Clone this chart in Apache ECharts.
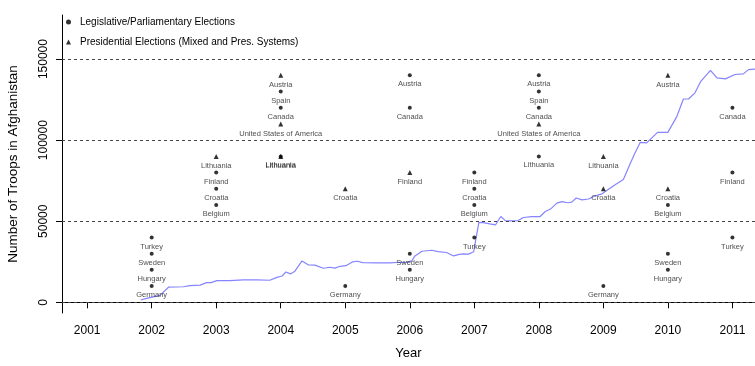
<!DOCTYPE html>
<html>
<head>
<meta charset="utf-8">
<title>Troops in Afghanistan and Elections</title>
<script src="https://cdn.jsdelivr.net/npm/echarts@6/dist/echarts.min.js"></script>
<style>
  html, body { margin: 0; padding: 0; background: #fff; }
  #chart { width: 755px; height: 366px; }
</style>
</head>
<body>
<div id="chart"></div>
<script>
// Troop deployment over time (decimal year, number of troops)
const troopYears = [2001.83, 2001.92, 2002.13, 2002.26, 2002.49, 2002.59, 2002.75, 2002.85, 2002.92, 2003.01,
  2003.21, 2003.42, 2003.63, 2003.83, 2003.94, 2004.02, 2004.08, 2004.15, 2004.22, 2004.33,
  2004.43, 2004.53, 2004.66, 2004.76, 2004.84, 2004.92, 2005.01, 2005.11, 2005.19, 2005.27,
  2005.49, 2005.69, 2005.85, 2005.93, 2006.03, 2006.08, 2006.19, 2006.34, 2006.44, 2006.57,
  2006.68, 2006.75, 2006.83, 2006.91, 2006.99, 2007.07, 2007.12, 2007.24, 2007.33, 2007.41,
  2007.48, 2007.58, 2007.68, 2007.76, 2007.89, 2008.02, 2008.10, 2008.18, 2008.28, 2008.36,
  2008.45, 2008.51, 2008.58, 2008.67, 2008.77, 2008.85, 2008.98, 2009.08, 2009.20, 2009.31,
  2009.42, 2009.49, 2009.57, 2009.67, 2009.84, 2010.00, 2010.14, 2010.24, 2010.32, 2010.42,
  2010.51, 2010.66, 2010.76, 2010.89, 2011.04, 2011.17, 2011.25, 2011.40];
const troopCounts = [1400, 2400, 4300, 9300, 9600, 10300, 10600, 12100, 12100, 13400,
  13400, 13800, 13800, 13600, 15400, 16200, 18700, 17500, 19200, 25500,
  23000, 22900, 21000, 21600, 21100, 22200, 22600, 24900, 25300, 24500,
  24300, 24300, 24700, 24500, 25500, 28600, 31500, 32100, 31300, 30700,
  28600, 29400, 29900, 29700, 31200, 49200, 49300, 48400, 47800, 52900,
  50400, 50200, 50400, 52300, 52900, 52900, 56000, 57500, 61200, 62100,
  61400, 61800, 64300, 63200, 63700, 65300, 66900, 69700, 73000, 75800,
  85900, 92100, 98600, 98300, 104800, 104800, 114700, 125400, 125400, 129200,
  136300, 143100, 138400, 137800, 140500, 140900, 143500, 144000];

// Legislative / parliamentary elections: year, country, vertical slot
const legYears = [2002, 2002, 2002, 2002, 2003, 2003, 2003, 2004, 2004, 2004, 2005,
  2006, 2006, 2006, 2006, 2007, 2007, 2007, 2007, 2008, 2008, 2008, 2008, 2009,
  2010, 2010, 2010, 2011, 2011, 2011];
const legCountries = ['Turkey', 'Sweden', 'Hungary', 'Germany', 'Finland', 'Croatia', 'Belgium',
  'Spain', 'Canada', 'Lithuania', 'Germany', 'Austria', 'Canada', 'Sweden', 'Hungary',
  'Finland', 'Croatia', 'Belgium', 'Turkey', 'Austria', 'Spain', 'Canada', 'Lithuania',
  'Germany', 'Belgium', 'Sweden', 'Hungary', 'Canada', 'Finland', 'Turkey'];
const legLevels = [40000, 30000, 20000, 10000, 80000, 70000, 60000, 130000, 120000, 90000, 10000,
  140000, 120000, 30000, 20000, 80000, 70000, 60000, 40000, 140000, 130000, 120000, 90000, 10000,
  60000, 30000, 20000, 120000, 80000, 40000];

// Presidential elections (mixed and presidential systems)
const presYears = [2003, 2004, 2004, 2004, 2005, 2006, 2008, 2009, 2009, 2010, 2010];
const presCountries = ['Lithuania', 'Austria', 'United States of America', 'Lithuania', 'Croatia',
  'Finland', 'United States of America', 'Lithuania', 'Croatia', 'Austria', 'Croatia'];
const presLevels = [90000, 140000, 110000, 90000, 70000, 80000, 110000, 90000, 70000, 140000, 70000];

// Axis ticks and reference lines
const yearTicks = [2001, 2002, 2003, 2004, 2005, 2006, 2007, 2008, 2009, 2010, 2011];
const troopTicks = [0, 50000, 100000, 150000];

const FONT = '"Liberation Sans", Arial, Helvetica, sans-serif';

const pointLabel = {
  show: true,
  position: 'bottom',
  distance: 3,
  fontFamily: FONT,
  fontSize: 7.5,
  color: '#222',
  formatter: p => p.data.name
};

function electionPoints(years, names, levels) {
  return years.map((y, i) => ({ value: [y, levels[i]], name: names[i] }));
}

const chart = echarts.init(document.getElementById('chart'), null, { renderer: 'canvas' });

chart.setOption({
  animation: false,
  backgroundColor: '#ffffff',
  textStyle: { fontFamily: FONT },
  grid: { left: 62, right: 0, top: 15, bottom: 53, containLabel: false, outerBoundsMode: 'none' },
  legend: {
    left: 66,
    top: 16,
    padding: 0,
    orient: 'vertical',
    itemWidth: 5,
    itemHeight: 5,
    itemGap: 8,
    selectedMode: false,
    textStyle: { fontFamily: FONT, fontSize: 10, color: '#000', lineHeight: 12, padding: [0, 0, 0, 4] },
    data: ['Legislative/Parliamentary Elections', 'Presidential Elections (Mixed and Pres. Systems)']
  },
  xAxis: {
    type: 'value',
    min: 2000.61,
    max: 2011.35,
    name: 'Year',
    nameLocation: 'middle',
    nameGap: 34,
    nameTextStyle: { fontFamily: FONT, fontSize: 13, color: '#000' },
    axisLine: { show: true, lineStyle: { color: '#000', width: 1 } },
    axisTick: { show: true, length: 6, customValues: yearTicks, lineStyle: { color: '#000' } },
    axisLabel: {
      customValues: yearTicks,
      margin: 12,
      fontFamily: FONT, fontSize: 12, color: '#000',
      formatter: v => String(Math.round(v))
    },
    splitLine: { show: false }
  },
  yAxis: {
    type: 'value',
    min: -6600,
    max: 177200,
    name: 'Number of Troops in Afghanistan',
    nameLocation: 'middle',
    nameGap: 42,
    nameRotate: 90,
    nameTextStyle: { fontFamily: FONT, fontSize: 13.5, color: '#000' },
    axisLine: { show: true, lineStyle: { color: '#000', width: 1 } },
    axisTick: { show: true, length: 6, customValues: troopTicks, lineStyle: { color: '#000' } },
    axisLabel: {
      customValues: troopTicks,
      rotate: 90,
      margin: 12,
      fontFamily: FONT, fontSize: 12, color: '#000',
      formatter: v => String(Math.round(v))
    },
    splitLine: { show: false }
  },
  series: [
    {
      name: 'Troops',
      type: 'line',
      data: troopYears.map((y, i) => [y, troopCounts[i]]),
      showSymbol: false,
      symbol: 'none',
      clip: true,
      z: 2,
      lineStyle: { color: '#8585ff', width: 1.2 },
      markLine: {
        silent: true,
        symbol: 'none',
        label: { show: false },
        lineStyle: { color: '#444', type: [3, 3], width: 1 },
        data: troopTicks.map(t => ({ yAxis: t }))
      }
    },
    {
      name: 'Presidential Elections (Mixed and Pres. Systems)',
      type: 'scatter',
      symbol: 'triangle',
      symbolSize: 5,
      z: 3,
      itemStyle: { color: '#000' },
      label: pointLabel,
      data: electionPoints(presYears, presCountries, presLevels)
    },
    {
      name: 'Legislative/Parliamentary Elections',
      type: 'scatter',
      symbol: 'circle',
      symbolSize: 4,
      z: 4,
      itemStyle: { color: '#000' },
      label: pointLabel,
      data: electionPoints(legYears, legCountries, legLevels)
    }
  ]
});
</script>
</body>
</html>
